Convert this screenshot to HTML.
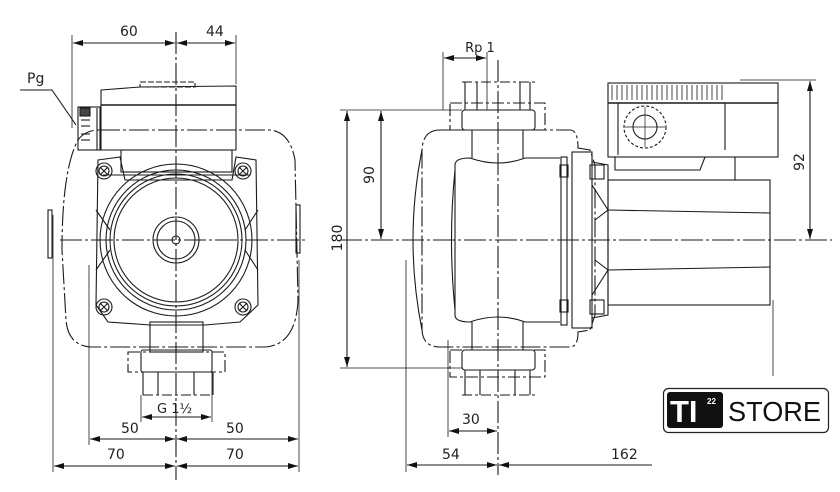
<!DOCTYPE html>
<html><head><meta charset="utf-8"><style>
html,body{margin:0;padding:0;background:#fff;}
svg{display:block;font-family:"DejaVu Sans","Liberation Sans",sans-serif;}
</style></head><body>
<svg width="840" height="492" viewBox="0 0 840 492" xmlns="http://www.w3.org/2000/svg">
<defs>
<marker id="a" viewBox="0 0 10 6" refX="10" refY="3" markerWidth="10" markerHeight="6" orient="auto-start-reverse" markerUnits="userSpaceOnUse"><path d="M0,0L10,3L0,6z" fill="#111"/></marker>
</defs>
<g stroke="#1a1a1a" stroke-width="1.1" fill="none">
<!-- ===== LEFT VIEW ===== -->
<line x1="176" y1="32" x2="176" y2="480" stroke-dasharray="22,3,3,3"/>
<line x1="60" y1="240" x2="305" y2="240" stroke-dasharray="22,3,3,3"/>
<path d="M100,130 L270,130 Q290,132 295,160 L298,300 Q296,345 265,347 L90,347 Q68,345 66,320 L62,250 Q62,170 78,140 Q85,130 100,130Z" stroke-dasharray="20,3,3,3"/>
<rect x="48" y="210" width="4" height="48"/>
<rect x="296" y="205" width="4" height="48"/>
<path d="M101,90 L140,87 L236,86 L236,150 L101,150Z"/>
<line x1="101" y1="105" x2="236" y2="105" stroke-width="1.6"/>
<rect x="140" y="82" width="55" height="5" stroke-dasharray="6,2"/>
<rect x="78" y="107" width="22" height="43"/>
<rect x="80" y="108" width="10" height="8" fill="#444"/>
<line x1="81" y1="120" x2="90" y2="120"/><line x1="81" y1="126" x2="90" y2="126"/><line x1="81" y1="134" x2="90" y2="134"/><line x1="81" y1="140" x2="90" y2="140"/>
<line x1="97" y1="108" x2="97" y2="150"/>
<rect x="121" y="150" width="111" height="22"/>
<path d="M98,160 L120,157 L125,180 L232,180 L236,157 L256,160 L258,305 L240,322 L205,325 L150,325 L108,322 L96,305Z"/>
<path d="M103,175 L250,175 M96,210 L110,230 M258,210 L245,230 M96,270 L110,250 M258,270 L245,250"/>
<circle cx="104" cy="171" r="8"/><circle cx="104" cy="171" r="5"/><path d="M100,167l8,8M108,167l-8,8"/>
<circle cx="243" cy="171" r="8"/><circle cx="243" cy="171" r="5"/><path d="M239,167l8,8M247,167l-8,8"/>
<circle cx="104" cy="307" r="8"/><circle cx="104" cy="307" r="5"/><path d="M100,303l8,8M108,303l-8,8"/>
<circle cx="243" cy="307" r="8"/><circle cx="243" cy="307" r="5"/><path d="M239,303l8,8M247,303l-8,8"/>
<circle cx="176" cy="240" r="76"/>
<circle cx="176" cy="240" r="70"/>
<circle cx="176" cy="240" r="66"/>
<circle cx="176" cy="240" r="62"/>
<circle cx="176" cy="240" r="23"/>
<circle cx="176" cy="240" r="19"/>
<circle cx="176" cy="240" r="4"/>
<rect x="150" y="322" width="53" height="30"/>
<rect x="141" y="350" width="71" height="22" rx="2"/>
<rect x="128" y="352" width="97" height="20" stroke-dasharray="12,3,3,3"/>
<path d="M143,372 L143,395 M213,372 L213,395 M158,372 L158,395 M194,372 L194,395"/>
<line x1="143" y1="395" x2="213" y2="395" stroke-dasharray="10,3,3,3"/>
<path d="M20,90 L52,90 L76,125" />
<line x1="72" y1="35" x2="72" y2="128" stroke-width=".8"/>
<line x1="236" y1="35" x2="236" y2="84" stroke-width=".8"/>
<line x1="73" y1="43" x2="175" y2="43" marker-start="url(#a)" marker-end="url(#a)"/>
<line x1="177" y1="43" x2="235" y2="43" marker-start="url(#a)" marker-end="url(#a)"/>
<line x1="53" y1="215" x2="53" y2="472" stroke-width=".8"/>
<line x1="89" y1="265" x2="89" y2="445" stroke-width=".8"/>
<line x1="299" y1="260" x2="299" y2="472" stroke-width=".8"/>
<line x1="141" y1="395" x2="141" y2="422" stroke-width=".8"/>
<line x1="212" y1="372" x2="212" y2="422" stroke-width=".8"/>
<line x1="142" y1="417" x2="211" y2="417" marker-start="url(#a)" marker-end="url(#a)"/>
<line x1="90" y1="439" x2="175" y2="439" marker-start="url(#a)" marker-end="url(#a)"/>
<line x1="177" y1="439" x2="298" y2="439" marker-start="url(#a)" marker-end="url(#a)"/>
<line x1="54" y1="466" x2="175" y2="466" marker-start="url(#a)" marker-end="url(#a)"/>
<line x1="177" y1="466" x2="298" y2="466" marker-start="url(#a)" marker-end="url(#a)"/>

<!-- ===== RIGHT VIEW ===== -->
<line x1="498" y1="60" x2="498" y2="475" stroke-dasharray="22,3,3,3"/>
<line x1="340" y1="240" x2="832" y2="240" stroke-dasharray="22,3,3,3"/>
<path d="M440,130 L570,130 Q578,130 578,148 L590,150 L595,165 L595,315 L590,330 L578,332 Q578,347 570,347 L440,347 Q423,347 422,330 L422,150 Q423,130 440,130Z" stroke-dasharray="20,3,3,3"/>
<path d="M422,150 Q404,240 422,330"/>
<path d="M455,165 Q455,158 470,158 Q498,168 525,158 L560,158 M455,165 L455,315 Q455,322 470,322 Q498,312 525,322 L560,322" />
<path d="M455,170 Q448,240 455,310"/>
<line x1="472" y1="130" x2="472" y2="158"/><line x1="523" y1="130" x2="523" y2="158"/>
<line x1="472" y1="322" x2="472" y2="350"/><line x1="523" y1="322" x2="523" y2="350"/>
<rect x="462" y="110" width="73" height="20" rx="3"/>
<rect x="450" y="103" width="95" height="27" stroke-dasharray="12,3,3,3"/>
<path d="M465,82 L465,110 M530,82 L530,110 M477,82 L477,110 M520,82 L520,110"/>
<line x1="462" y1="82" x2="535" y2="82" stroke-dasharray="10,3,3,3"/>
<rect x="462" y="350" width="73" height="20" rx="3"/>
<rect x="450" y="350" width="95" height="27" stroke-dasharray="12,3,3,3"/>
<path d="M465,370 L465,395 M530,370 L530,395 M480,370 L480,395 M515,370 L515,395"/>
<line x1="462" y1="395" x2="535" y2="395" stroke-dasharray="10,3,3,3"/>
<rect x="561" y="157" width="6" height="168"/>
<rect x="572" y="152" width="20" height="176"/>
<path d="M592,162 L608,165 L608,315 L592,318"/>
<path d="M592,185 L608,210 L595,220 M592,295 L608,270 L595,260"/>
<rect x="560" y="165" width="8" height="12"/><rect x="560" y="300" width="8" height="12"/>
<rect x="590" y="165" width="14" height="14"/><rect x="590" y="300" width="14" height="14"/>
<rect x="608" y="180" width="162" height="125"/>
<path d="M608,210 L770,213 M608,270 L770,267 M608,180 L690,180"/>
<rect x="608" y="83" width="170" height="74"/>
<line x1="608" y1="103" x2="778" y2="103" stroke-width="1.6"/>
<path d="M618,103 L618,155 M725,103 L725,150"/>
<g stroke-width=".8">
<path d="M612,85v15M617,85v15M622,85v15M627,85v15M632,85v15M637,85v15M642,85v15M647,85v15M652,85v15M657,85v15M662,85v15M667,85v15M672,85v15M677,85v15M682,85v15M687,85v15M692,85v15M697,85v15M702,85v15M707,85v15M712,85v15M717,85v15M722,85v15"/>
</g>
<circle cx="645" cy="127" r="21" stroke-dasharray="3,2"/>
<circle cx="645" cy="127" r="12"/>
<path d="M625,127h40M645,107v40" stroke-width=".7"/>
<path d="M615,157 L615,170 L700,170 L705,157 M735,157 L735,180 L770,180"/>
<line x1="340" y1="110" x2="462" y2="110" stroke-width=".8"/>
<line x1="340" y1="368" x2="462" y2="368" stroke-width=".8"/>
<line x1="347" y1="111" x2="347" y2="367" marker-start="url(#a)" marker-end="url(#a)"/>
<line x1="381" y1="111" x2="381" y2="239" marker-start="url(#a)" marker-end="url(#a)"/>
<line x1="443" y1="52" x2="443" y2="110" stroke-width=".8"/>
<line x1="487" y1="52" x2="487" y2="110" stroke-width=".8"/>
<line x1="444" y1="58" x2="486" y2="58" marker-start="url(#a)" marker-end="url(#a)"/>
<line x1="740" y1="80" x2="816" y2="80" stroke-width=".8"/>
<line x1="810" y1="81" x2="810" y2="239" marker-start="url(#a)" marker-end="url(#a)"/>
<line x1="773" y1="300" x2="773" y2="376" stroke-width=".8"/>
<line x1="406" y1="260" x2="406" y2="472" stroke-width=".8"/>
<line x1="448" y1="340" x2="448" y2="437" stroke-width=".8"/>
<line x1="449" y1="431" x2="497" y2="431" marker-start="url(#a)" marker-end="url(#a)"/>
<line x1="407" y1="465" x2="497" y2="465" marker-start="url(#a)" marker-end="url(#a)"/>
<line x1="499" y1="465" x2="652" y2="465" marker-start="url(#a)"/>
</g>
<g fill="#222" font-size="14">
<text x="120" y="36">60</text>
<text x="206" y="36">44</text>
<text x="27" y="83">Pg</text>
<text x="157" y="413" font-size="13">G 1½</text>
<text x="121" y="433">50</text>
<text x="226" y="433">50</text>
<text x="107" y="459">70</text>
<text x="226" y="459">70</text>
<text x="480" y="52" font-size="13" text-anchor="middle">Rp 1</text>
<text x="462" y="424">30</text>
<text x="442" y="459">54</text>
<text x="611" y="459">162</text>
<text transform="translate(342,238) rotate(-90)" text-anchor="middle">180</text>
<text transform="translate(374,175) rotate(-90)" text-anchor="middle">90</text>
<text transform="translate(804,162) rotate(-90)" text-anchor="middle">92</text>
</g>
<rect x="663.5" y="388.5" width="165" height="44" rx="5" fill="#fff" stroke="#222" stroke-width="1.2"/>
<rect x="667" y="392" width="56" height="36" rx="3" fill="#111"/>
<text x="670" y="422" fill="#fff" font-family="Liberation Sans,sans-serif" font-weight="bold" font-size="31">TI</text>
<text x="707" y="404" fill="#fff" font-family="Liberation Sans,sans-serif" font-weight="bold" font-size="8">22</text>
<text x="728" y="421" fill="#111" font-family="Liberation Sans,sans-serif" font-size="28" textLength="93" lengthAdjust="spacingAndGlyphs">STORE</text>
</svg>
</body></html>
